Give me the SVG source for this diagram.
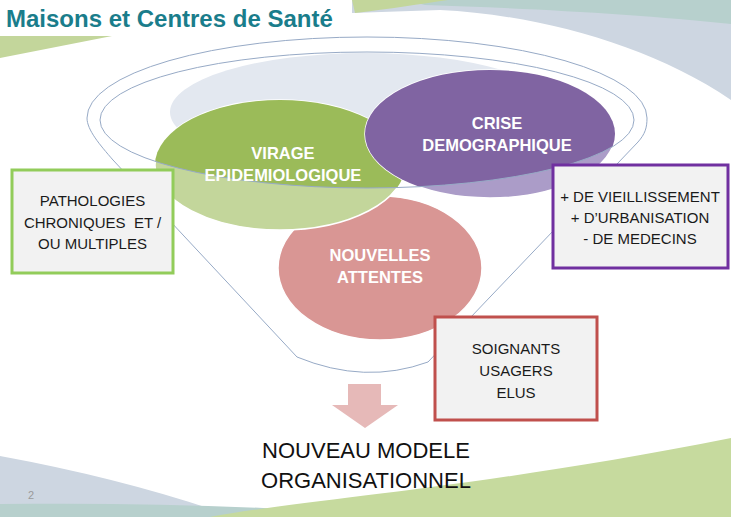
<svg xmlns="http://www.w3.org/2000/svg" width="731" height="517" viewBox="0 0 731 517">
<defs>
<style>
.funnel{fill:none;stroke:#97aac6;stroke-width:1}
.lbl{font-family:"Liberation Sans",Arial,sans-serif;font-weight:bold;font-size:16.5px;fill:#ffffff;text-anchor:middle}
.box{fill:#f2f2f2;stroke-width:3}
.btxt{font-family:"Liberation Sans",Arial,sans-serif;font-size:15px;fill:#1a1a1a;text-anchor:middle;white-space:pre}
.big{font-family:"Liberation Sans",Arial,sans-serif;font-size:22px;fill:#111111;text-anchor:middle}
.ell{stroke:#ffffff;stroke-width:1.5}
</style>
<clipPath id="mouth"><ellipse cx="367" cy="120" rx="267" ry="68"/></clipPath>
</defs>
<rect width="731" height="517" fill="#ffffff"/>
<g id="background">
<path d="M352,0 L731,0 L731,100 C650,45 540,15 440,10 L352,13 Z" fill="#cdd6e1"/>
<path d="M405,0 L731,0 L731,24 C640,14 520,8 425,5 Z" fill="#b7d0cd"/>
<path d="M352,0 L448,0 C420,4 390,9 355,13 Z" fill="#c3d69b"/>
<path d="M0,36 L112,36 L0,58 Z" fill="#c3d69b"/>
<path d="M0,456 Q120,478 220,512 L220,517 L0,517 Z" fill="#cdd6e1"/>
<path d="M0,504 C100,503 200,504 300,510 L300,517 L0,517 Z" fill="#b7d0cd"/>
<path d="M210,517 C300,500 480,488 731,438 L731,517 Z" fill="#c6da9e"/>
</g>
<text x="6" y="27" font-family="'Liberation Sans',Arial,sans-serif" font-weight="bold" font-size="24" fill="#1a7d8b">Maisons et Centres de Santé</text>
<text x="28" y="499" font-family="'Liberation Sans',Arial,sans-serif" font-size="11" fill="#9a9a9a">2</text>
<g id="funnel-mouth">
<ellipse cx="365" cy="112" rx="195" ry="59" fill="#e3e8f0" clip-path="url(#mouth)"/>
</g>
<g id="node-nouvelles">
<ellipse class="ell" cx="380" cy="268" rx="102" ry="72" fill="#d99694"/>
<text class="lbl" x="380" y="261">NOUVELLES</text>
<text class="lbl" x="380" y="283">ATTENTES</text>
</g>
<g id="node-virage">
<ellipse class="ell" cx="280" cy="165" rx="125" ry="65" fill="#c3d69b"/>
<ellipse cx="280" cy="165" rx="125" ry="65" fill="#9bbb59" clip-path="url(#mouth)"/>
</g>
<g id="node-crise">
<ellipse class="ell" cx="490" cy="134" rx="125" ry="64" fill="#ab9cc8"/>
<ellipse cx="490" cy="134" rx="125" ry="64" fill="#8064a2" clip-path="url(#mouth)"/>
</g>
<g id="funnel">
<path class="funnel" d="M113,160 C100,145 87,130 87,118 A280,81 0 0 1 647,118 C647,128 645,134 638,142 L428,362 Q365,385 297,357 Z"/>
<ellipse class="funnel" cx="367" cy="120" rx="267" ry="68"/>
</g>
<g id="labels">
<text class="lbl" x="283" y="159">VIRAGE</text>
<text class="lbl" x="283" y="181">EPIDEMIOLOGIQUE</text>
<text class="lbl" x="497" y="129">CRISE</text>
<text class="lbl" x="497" y="151">DEMOGRAPHIQUE</text>
</g>
<g id="box-pathologies">
<rect class="box" x="12" y="170" width="161" height="103" stroke="#92cc5a"/>
<text class="btxt" x="92.5" y="206">PATHOLOGIES</text>
<text class="btxt" x="92.5" y="228">CHRONIQUES  ET /</text>
<text class="btxt" x="92.5" y="249">OU MULTIPLES</text>
</g>
<g id="box-demographie">
<rect class="box" x="553" y="165" width="175" height="103" stroke="#7030a0"/>
<text class="btxt" x="640" y="202">+ DE VIEILLISSEMENT</text>
<text class="btxt" x="640" y="223">+ D’URBANISATION</text>
<text class="btxt" x="640" y="244">- DE MEDECINS</text>
</g>
<g id="box-acteurs">
<rect class="box" x="435" y="317" width="162" height="103" stroke="#c0504d"/>
<text class="btxt" x="516" y="354">SOIGNANTS</text>
<text class="btxt" x="516" y="376">USAGERS</text>
<text class="btxt" x="516" y="398">ELUS</text>
</g>
<g id="connectors">
<polygon points="348,384 381,384 381,405 398,405 365,428 332,405 348,405" fill="#e6b9b8"/>
</g>
<g id="node-result">
<text class="big" x="366" y="458">NOUVEAU MODELE</text>
<text class="big" x="366" y="488">ORGANISATIONNEL</text>
</g>
</svg>
